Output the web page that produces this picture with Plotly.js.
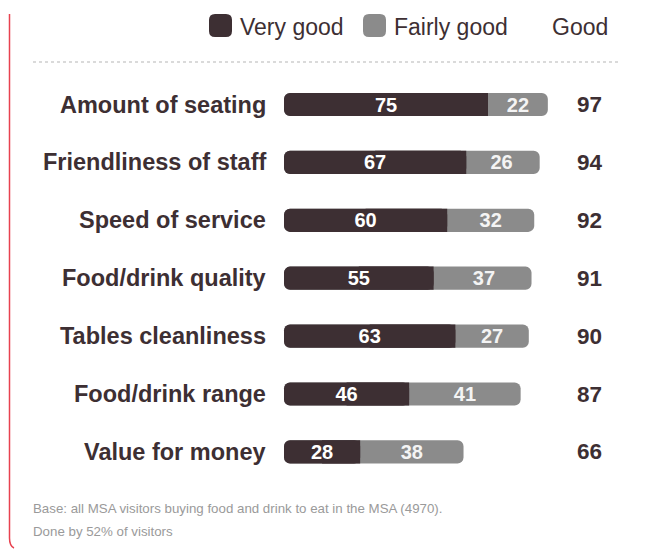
<!DOCTYPE html>
<html>
<head>
<meta charset="utf-8">
<script src="https://cdn.plot.ly/plotly-3.0.1.min.js"></script>
<style>
html,body{margin:0;padding:0;background:#fff;}
#chart{width:645px;height:549px;}
</style>
</head>
<body>
<div id="chart"></div>
<script>
// ---- data ----
var categories = ["Amount of seating","Friendliness of staff","Speed of service","Food/drink quality","Tables cleanliness","Food/drink range","Value for money"];
var veryGood   = [75, 67, 60, 55, 63, 46, 28];
var fairlyGood = [22, 26, 32, 37, 27, 41, 38];
var goodTotal  = [97, 94, 92, 91, 90, 87, 66];
var seriesNames = ["Very good", "Fairly good"];
var totalHeader = "Good";
var footnoteLines = ["Base: all MSA visitors buying food and drink to eat in the MSA (4970).", "Done by 52% of visitors"];

// ---- styling / geometry ----
var W = 645, H = 549;
var DARK = "#3d2f33", GREY = "#8b8b8b";
var x0px = 284, pxPerUnit = 2.72;
var firstRowPx = 104.5, rowStep = 57.9;
var BARW = 0.4, RADIUS = 6;
var FONT = "'Liberation Sans', Arial, Helvetica, sans-serif";

function px(x){ return x / W; }
function py(y){ return 1 - y / H; }
function rrect(x, y, w, h, r){
  return "M " + px(x + r) + " " + py(y) +
    " L " + px(x + w - r) + " " + py(y) +
    " Q " + px(x + w) + " " + py(y) + " " + px(x + w) + " " + py(y + r) +
    " L " + px(x + w) + " " + py(y + h - r) +
    " Q " + px(x + w) + " " + py(y + h) + " " + px(x + w - r) + " " + py(y + h) +
    " L " + px(x + r) + " " + py(y + h) +
    " Q " + px(x) + " " + py(y + h) + " " + px(x) + " " + py(y + h - r) +
    " L " + px(x) + " " + py(y + r) +
    " Q " + px(x) + " " + py(y) + " " + px(x + r) + " " + py(y) + " Z";
}
var zeros = categories.map(function(){ return 0; });
var barText = {family: FONT, size: 20, color: "#ffffff", weight: "bold"};

// full "Good" bar in grey, rounded at both ends (explicit base)
var greyFull = {
  type: "bar", orientation: "h", y: categories, base: zeros, x: goodTotal,
  marker: {color: GREY, cornerradius: RADIUS, line: {width: 0}},
  width: BARW, hoverinfo: "skip", name: seriesNames[1]
};
// "Very good" part in dark, rounded at both ends
var darkRound = {
  type: "bar", orientation: "h", y: categories, base: zeros, x: veryGood,
  text: veryGood.map(String),
  textposition: "inside", insidetextanchor: "middle", constraintext: "none", textangle: 0,
  textfont: barText,
  marker: {color: DARK, cornerradius: RADIUS, line: {width: 0}},
  width: BARW, hoverinfo: "skip", name: seriesNames[0]
};
// square right half of the dark part, so the dark/grey junction is a straight edge
var darkSquareEnd = {
  type: "bar", orientation: "h", y: categories, base: veryGood,
  x: veryGood.map(function(v){ return -v / 2; }),
  marker: {color: DARK, cornerradius: 0, line: {width: 0}},
  width: BARW, hoverinfo: "skip", showlegend: false
};
// labels of the "Fairly good" segment
var greyLabels = {
  type: "bar", orientation: "h", y: categories, base: veryGood, x: fairlyGood,
  text: fairlyGood.map(String),
  textposition: "inside", insidetextanchor: "middle", constraintext: "none", textangle: 0,
  textfont: {family: FONT, size: 20, color: "#f4f4f4", weight: "bold"},
  marker: {color: "rgba(0,0,0,0)", cornerradius: 0, line: {width: 0}},
  width: BARW, hoverinfo: "skip", showlegend: false
};

var annotations = [];
categories.forEach(function(c, i){
  annotations.push({
    x: 0, y: c, xref: "x", yref: "y", xanchor: "right", yanchor: "middle",
    xshift: -16, text: "<b>" + c + "</b>", showarrow: false,
    font: {family: FONT, size: 23.5, color: DARK}
  });
  annotations.push({
    x: px(589.5), y: c, xref: "paper", yref: "y", xanchor: "center", yanchor: "middle",
    text: "<b>" + goodTotal[i] + "</b>", showarrow: false,
    font: {family: FONT, size: 22.5, color: DARK}
  });
});
// legend texts
annotations.push({x: px(238), y: py(27), xref: "paper", yref: "paper", xanchor: "left", yanchor: "middle",
  text: seriesNames[0], showarrow: false, font: {family: FONT, size: 23, color: DARK}});
annotations.push({x: px(392), y: py(27), xref: "paper", yref: "paper", xanchor: "left", yanchor: "middle",
  text: seriesNames[1], showarrow: false, font: {family: FONT, size: 23, color: DARK}});
annotations.push({x: px(610), y: py(27), xref: "paper", yref: "paper", xanchor: "right", yanchor: "middle",
  text: totalHeader, showarrow: false, font: {family: FONT, size: 23, color: DARK}});
// footnote
footnoteLines.forEach(function(t, i){
  annotations.push({x: px(31), y: py(508 + i * 23), xref: "paper", yref: "paper", xanchor: "left", yanchor: "middle",
    text: t, showarrow: false, font: {family: FONT, size: 13.3, color: "#9a9a9a"}});
});

var shapes = [
  {type: "path", xref: "paper", yref: "paper", path: rrect(209, 14, 23, 23, 6), fillcolor: DARK, line: {width: 0}},
  {type: "path", xref: "paper", yref: "paper", path: rrect(363, 14, 23, 23, 6), fillcolor: GREY, line: {width: 0}},
  {type: "line", xref: "paper", yref: "paper", x0: px(33), x1: px(618), y0: py(62), y1: py(62),
    line: {color: "#b5b5b5", width: 1, dash: "dot"}},
  {type: "path", xref: "paper", yref: "paper",
    path: "M " + px(9.5) + " " + py(14) + " L " + px(9.5) + " " + py(538) + " Q " + px(9.5) + " " + py(546) + " " + px(14) + " " + py(548),
    line: {color: "#e8424f", width: 1.5}}
];

var yTop = -firstRowPx / rowStep;
var yBottom = (H - firstRowPx) / rowStep;

var layout = {
  width: W, height: H,
  margin: {l: 0, r: 0, t: 0, b: 0, pad: 0},
  paper_bgcolor: "#ffffff", plot_bgcolor: "#ffffff",
  barmode: "overlay",
  showlegend: false,
  uniformtext: {mode: "show", minsize: 20},
  xaxis: {range: [-x0px / pxPerUnit, (W - x0px) / pxPerUnit], visible: false, fixedrange: true},
  yaxis: {type: "category", categoryorder: "array", categoryarray: categories,
    range: [yBottom, yTop], visible: false, fixedrange: true},
  annotations: annotations,
  shapes: shapes
};

Plotly.newPlot("chart", [greyFull, darkSquareEnd, darkRound, greyLabels], layout, {displayModeBar: false, staticPlot: true});
</script>
</body>
</html>
